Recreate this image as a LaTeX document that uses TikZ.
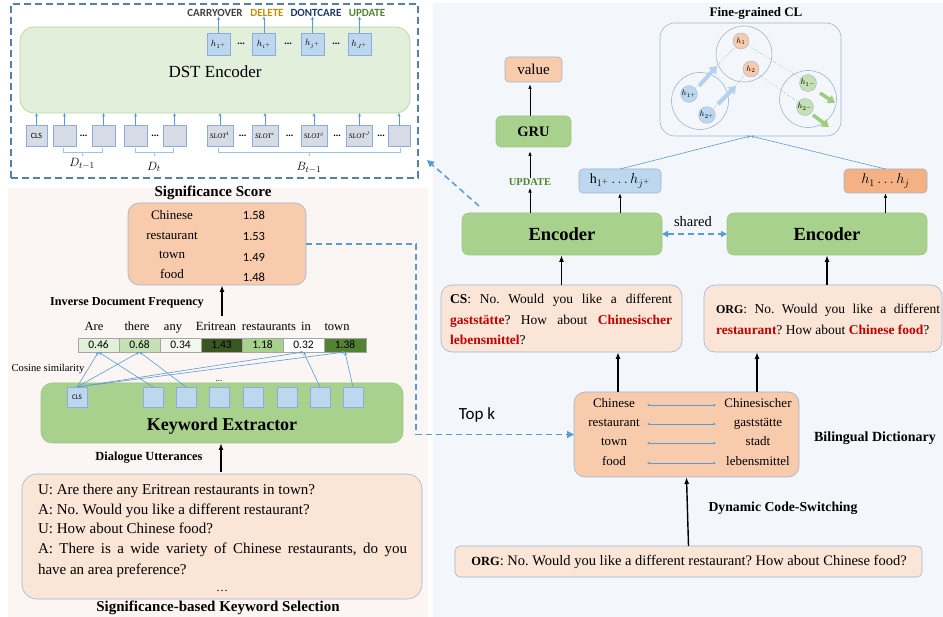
\documentclass[tikz,border=0pt]{standalone}
\usepackage{fontspec}
\setmainfont{Liberation Serif}
\newfontfamily\carl{Carlito}
\usetikzlibrary{arrows.meta}
\definecolor{pinkbg}{HTML}{FBF6F3}
\definecolor{bluebg}{HTML}{F3F7FB}
\definecolor{frameblue}{HTML}{5480AC}
\definecolor{dstfill}{HTML}{E2EFDA}
\definecolor{dstdraw}{HTML}{B8D3A8}
\definecolor{grn}{HTML}{A9D18E}
\definecolor{grnd}{HTML}{9CC77F}
\definecolor{org}{HTML}{F8CBAD}
\definecolor{orgd}{HTML}{F4B183}
\definecolor{pale}{HTML}{FBE5D6}
\definecolor{bdr}{HTML}{9DB5D3}
\definecolor{lblue}{HTML}{BDD7EE}
\definecolor{lbluedraw}{HTML}{8FAADC}
\definecolor{ingray}{HTML}{D6DCE5}
\definecolor{arr}{HTML}{5B9BD5}
\definecolor{brcc}{HTML}{9DC3E6}
\definecolor{redt}{HTML}{C00000}
\definecolor{carry}{HTML}{404040}
\definecolor{del}{HTML}{BF9000}
\definecolor{dont}{HTML}{203864}
\definecolor{upd}{HTML}{548235}
\definecolor{cA}{HTML}{E2F0D9}
\definecolor{cB}{HTML}{C5E0B4}
\definecolor{cC}{HTML}{F2F8EE}
\definecolor{cD}{HTML}{385723}
\definecolor{cE}{HTML}{A9D18E}
\definecolor{cG}{HTML}{548235}
\definecolor{clgreen}{HTML}{C5E0B4}
\definecolor{fatblue}{HTML}{B4D2EE}
\definecolor{fatgreen}{HTML}{9FCD7E}
\newcommand\fsz[2]{\fontsize{#1}{#2}\selectfont}
\newcommand\rd[1]{\textcolor{redt}{\textbf{#1}}}
\frenchspacing
\begin{document}
\begin{tikzpicture}[x=1pt,y=-1pt,
  every node/.style={inner sep=0pt, outer sep=0pt},
  st/.style={execute at begin node=\strut},
  blarr/.style={draw=arr, line width=0.6pt, -{Stealth[length=3.5pt,width=3pt]}},
  karr/.style={draw=black, line width=1.4pt, -{Latex[length=7pt,width=5pt]}},
  karrs/.style={draw=black, line width=1pt, -{Latex[length=5pt,width=3.6pt]}},
  dsh/.style={draw=arr, line width=1.5pt, dash pattern=on 6pt off 4pt},
  hbx/.style={draw=lbluedraw, fill=lblue, minimum width=23, minimum height=22, font=\fsz{9}{10}},
  inb/.style={draw=lbluedraw, fill=ingray, minimum width=23, minimum height=21},
  dts/.style={font=\bfseries\fsz{10}{12}},
  lab/.style={font=\carl\bfseries\fsz{11}{13}},
  brc/.style={draw=brcc, line width=0.7pt},
  cell/.style={draw=gray!70, minimum width=41, minimum height=14, font=\carl\fsz{11.5}{13}},
  kb/.style={draw=lbluedraw, fill=lblue, minimum width=20, minimum height=20},
  tl/.style={anchor=west},
  snode/.style={circle, draw=bdr, minimum size=16, font=\fsz{8.5}{10}},
  big/.style={circle, draw=bdr, line width=0.6pt},
  dotln/.style={draw=gray, line width=0.5pt, dotted},
  fatb/.style={draw=fatblue, line width=4pt, -{Triangle[length=7pt,width=10pt]}},
  fatg/.style={draw=fatgreen, line width=3.5pt, -{Triangle[length=7pt,width=9pt]}},
  rbox/.style={draw=bdr, line width=0.6pt},
  gbox/.style={draw=grnd, fill=grn, line width=0.6pt}
]
\useasboundingbox (0,0) rectangle (943,617);
% backgrounds
\fill[pinkbg] (8,188) rectangle (428,617);
\fill[bluebg] (433,3) rectangle (943,617);

% ===== DST encoder panel =====
\node[draw=frameblue, line width=1.4pt, dash pattern=on 7pt off 4pt, minimum width=407, minimum height=174] (frame) at (214.5,91) {};
\node[draw=dstdraw, fill=dstfill, rounded corners=14pt, line width=0.7pt, minimum width=390, minimum height=86] (dst) at (215,70) {};
\node[font=\fsz{17}{20}] (dsttext) at (215,72) {DST Encoder};
\node[hbx] (h1) at (218.5,44) {$h_{1^+}$};
\node[hbx] (hi) at (264,44) {$h_{i^+}$};
\node[hbx] (hj) at (312.5,44) {$h_{j^+}$};
\node[hbx] (hJ) at (359.5,44) {$h_{J^+}$};
\node[dts] (d1) at (241,44) {...};
\node[dts] (d2) at (288,44) {...};
\node[dts] (d3) at (336,44) {...};
\node[lab, text=carry] (l1) at (215,13) {CARRYOVER};
\node[lab, text=del] (l2) at (267,13) {DELETE};
\node[lab, text=dont] (l3) at (316,13) {DONTCARE};
\node[lab, text=upd] (l4) at (367,13) {UPDATE};
\draw[blarr] (h1.north) -- (h1.north |- l1.south);
\draw[blarr] (hi.north) -- (hi.north |- l2.south);
\draw[blarr] (hj.north) -- (hj.north |- l3.south);
\draw[blarr] (hJ.north) -- (hJ.north |- l4.south);

\node[inb, minimum width=21, font=\carl\fsz{8}{9}] (cls) at (36.5,135.5) {CLS};
\node[inb] (b1) at (64.5,135.5) {};
\node[dts] (e1) at (83.5,135.5) {...};
\node[inb] (b2) at (103.5,135.5) {};
\node[inb] (b3) at (135.5,135.5) {};
\node[dts] (e2) at (155,135.5) {...};
\node[inb] (b4) at (174.5,135.5) {};
\node[inb, minimum width=26, font=\fsz{7}{8}] (s1) at (220,135.5) {$\mathit{SLOT}^1$};
\node[dts] (e3) at (242.5,135.5) {...};
\node[inb, minimum width=26, font=\fsz{7}{8}] (s2) at (265,135.5) {$\mathit{SLOT}^i$};
\node[dts] (e4) at (289.5,135.5) {...};
\node[inb, minimum width=26, font=\fsz{7}{8}] (s3) at (314,135.5) {$\mathit{SLOT}^j$};
\node[dts] (e5) at (337,135.5) {...};
\node[inb, minimum width=26, font=\fsz{7}{8}] (s4) at (359.5,135.5) {$\mathit{SLOT}^J$};
\node[dts] (e6) at (381,135.5) {...};
\node[inb, minimum width=22] (b5) at (399,135.5) {};
\foreach \n in {cls,b1,b2,b3,b4,s1,s2,s3,s4,b5}
  \draw[blarr] (\n.north) -- (\n.north |- dst.south);
\draw[brc] (63,148) -- (63,152) -- (102,152) -- (102,148) (82.5,152) -- (82.5,156);
\draw[brc] (135,148) -- (135,152) -- (173,152) -- (173,148) (154,152) -- (154,156);
\draw[brc] (218,148) -- (218,152) -- (400,152) -- (400,148) (309,152) -- (309,156);
\node[font=\fsz{13}{15}] (lD1) at (82,164) {$D_{t-1}$};
\node[font=\fsz{13}{15}] (lD2) at (154,167) {$D_t$};
\node[font=\fsz{13}{15}] (lB) at (309,168) {$B_{t-1}$};

% ===== keyword selection panel =====
\node[font=\bfseries\fsz{15}{17}] (sstitle) at (213,193) {Significance Score};
\node[rbox, fill=org, rounded corners=11pt, minimum width=178, minimum height=82] (score) at (217,244) {};
\node[st, font=\fsz{13}{15}] (w1) at (172,217) {Chinese};
\node[st, font=\fsz{13}{15}] (w2) at (172,237) {restaurant};
\node[st, font=\fsz{13}{15}] (w3) at (172,256) {town};
\node[st, font=\fsz{13}{15}] (w4) at (172,276) {food};
\node[font=\carl\fsz{12.5}{14}] (v1) at (254,215) {1.58};
\node[font=\carl\fsz{12.5}{14}] (v2) at (254,236) {1.53};
\node[font=\carl\fsz{12.5}{14}] (v3) at (254,257) {1.49};
\node[font=\carl\fsz{12.5}{14}] (v4) at (254,277) {1.48};
\coordinate (idf) at (222,316);
\draw[karr] (idf) -- (idf |- score.south);
\node[font=\bfseries\fsz{12.2}{14}] (idflab) at (127,303) {Inverse Document Frequency};

\node[st, font=\fsz{12.5}{14}] (t1) at (94,328) {Are};
\node[st, font=\fsz{12.5}{14}] (t2) at (137,328) {there};
\node[st, font=\fsz{12.5}{14}] (t3) at (173,328) {any};
\node[st, font=\fsz{12.5}{14}] (t4) at (216,328) {Eritrean};
\node[st, font=\fsz{12.5}{14}] (t5) at (269,328) {restaurants};
\node[st, font=\fsz{12.5}{14}] (t6) at (306,328) {in};
\node[st, font=\fsz{12.5}{14}] (t7) at (337,328) {town};
\node[cell, fill=cA] (c1) at (98.5,345) {0.46};
\node[cell, fill=cB] (c2) at (139.5,345) {0.68};
\node[cell, fill=cC] (c3) at (180.5,345) {0.34};
\node[cell, fill=cD] (c4) at (221.5,345) {1.43};
\node[cell, fill=cE] (c5) at (262.5,345) {1.18};
\node[cell, fill=white] (c6) at (303.5,345) {0.32};
\node[cell, fill=cG, minimum width=42] (c7) at (345,345) {1.38};

\node[gbox, rounded corners=11pt, minimum width=362, minimum height=60] (kw) at (222,413) {};
\node[font=\bfseries\fsz{18}{20}] (kwtext) at (222,426) {Keyword Extractor};
\node[kb, font=\carl\fsz{7}{8}] (k1) at (77,397) {CLS};
\node[kb] (k2) at (153,397) {};
\node[kb] (k3) at (186,397) {};
\node[kb] (k4) at (219.5,397) {};
\node[kb] (k5) at (253,397) {};
\node[kb] (k6) at (287,397) {};
\node[kb] (k7) at (320,397) {};
\node[kb] (k8) at (353,397) {};
\node[font=\fsz{9}{10}] (kdots) at (219,381) {...};
\draw[blarr] (k1.north) -- (c1.south);
\draw[blarr] (k1.north) -- (c2.south);
\draw[blarr] (k1.north) -- (c6.south);
\draw[blarr] (k1.north) -- (c7.south);
\draw[blarr] (k2.north) -- (c1.south);
\draw[blarr] (k3.north) -- (c2.south);
\draw[blarr] (k7.north) -- (c6.south);
\draw[blarr] (k8.north) -- (c7.south);
\node[font=\fsz{10.6}{12}] (cos) at (48,369) {Cosine similarity};

\node[font=\bfseries\fsz{12.4}{14}] (dulab) at (149,458) {Dialogue Utterances};
\coordinate (du) at (221,472);
\draw[karr] (du) -- (du |- kw.south);
\node[rbox, fill=pale, rounded corners=15pt, minimum width=400, minimum height=125] (utt) at (222,536.5) {};
\node[tl, font=\fsz{15}{18}] (u1) at (38,491) {\strut U: Are there any Eritrean restaurants in town?};
\node[tl, font=\fsz{15}{18}] (u2) at (38,511) {\strut A: No. Would you like a different restaurant?};
\node[tl, font=\fsz{15}{18}] (u3) at (38,530) {\strut U: How about Chinese food?};
\node[tl, font=\fsz{15}{18}] (u4) at (38,550) {\hbox to 369pt{\strut A: There is a wide variety of Chinese restaurants, do you}};
\node[tl, font=\fsz{15}{18}] (u5) at (38,571) {\strut have an area preference?};
\node[font=\fsz{12}{14}] (udots) at (222,591) {\dots};
\node[font=\bfseries\fsz{15}{17}] (kstitle) at (218,608) {Significance-based Keyword Selection};

% ===== right panel =====
\node[font=\bfseries\fsz{13}{15}] (cltitle) at (756,13) {Fine-grained CL};
\node[rbox, rounded corners=15pt, minimum width=181, minimum height=113] (cl) at (750.5,79.5) {};
\node[big, minimum size=56] (ctop) at (744,54) {};
\node[big, minimum size=57] (cleft) at (700,101) {};
\node[big, minimum size=57] (cright) at (808,99) {};
\node[snode, fill=org] (p1) at (741,41) {$h_1$};
\node[snode, fill=org] (p2) at (751,69) {$h_2$};
\node[snode, fill=lblue] (q1) at (689,94) {$h_{1^+}$};
\node[snode, fill=lblue] (q2) at (707,115) {$h_{2^+}$};
\node[snode, fill=clgreen] (n1) at (808,83) {$h_{1^-}$};
\node[snode, fill=clgreen] (n2) at (805,107) {$h_{2^-}$};
\draw[dotln] (p1) -- (q1);
\draw[dotln] (p2) -- (q2);
\draw[dotln] (p1) -- (n1);
\draw[dotln] (p2) -- (n2);
\coordinate (fa1) at (699,86); \coordinate (fa2) at (717,66);
\coordinate (fb1) at (718,104); \coordinate (fb2) at (736,86);
\coordinate (ga1) at (820,93); \coordinate (ga2) at (835,103);
\coordinate (gb1) at (813,115); \coordinate (gb2) at (829,127);
\draw[fatb] (fa1) -- (fa2);
\draw[fatb] (fb1) -- (fb2);
\draw[fatg] (ga1) -- (ga2);
\draw[fatg] (gb1) -- (gb2);

\node[rbox, fill=org, rounded corners=4pt, minimum width=57, minimum height=25, font=\fsz{15}{17}] (val) at (533.5,69.5) {value};
\node[gbox, rounded corners=5pt, minimum width=75, minimum height=31, font=\bfseries\fsz{14.5}{16}] (gru) at (533.5,131.5) {GRU};
\node[font=\bfseries\fsz{10.5}{12}, text=upd] (updl) at (530,182) {UPDATE};
\node[rbox, fill=lblue, rounded corners=4pt, minimum width=82, minimum height=24, font=\fsz{14}{16}] (hp) at (620,181) {$\mathrm{h}_{1^+}\ldots h_{j^+}$};
\node[rbox, fill=orgd, rounded corners=4pt, minimum width=83, minimum height=24, font=\fsz{14}{16}] (hn) at (885.5,181) {$h_1\ldots h_j$};
\draw[blarr] (hp.north) -- (cl.south);
\draw[blarr] (hn.north) -- (cl.south);

\node[gbox, rounded corners=7pt, minimum width=200, minimum height=42, font=\bfseries\fsz{18.5}{20}] (encL) at (562,234) {Encoder};
\node[gbox, rounded corners=7pt, minimum width=200, minimum height=42, font=\bfseries\fsz{18.5}{20}] (encR) at (827,234) {Encoder};
\node[font=\fsz{14.5}{16}] (shared) at (693,222) {shared};
\draw[dsh, {Triangle[length=6pt,width=6pt]}-{Triangle[length=6pt,width=6pt]}] (encL.east) -- (encR.west);

\coordinate (gv) at (530,116);
\draw[karrs, shorten >=2pt] (gv) -- (gv |- val.south);
\draw[karrs, shorten >=4pt] (updl.north) -- (updl |- gru.south);
\draw[karrs, shorten >=2pt] (encL.north -| updl) -- (updl.south);
\draw[karrs] (encL.north -| hp) -- (hp.south);
\draw[karrs] (encR.north -| hn) -- (hn.south);

\node[rbox, fill=pale, rounded corners=11pt, minimum width=241, minimum height=67] (cs) at (561.5,318.5) {};
\node[rbox, fill=pale, rounded corners=11pt, minimum width=238, minimum height=67] (orgb) at (823,318.5) {};
\draw[karr] (cs.north) -- (cs.north |- encL.south);
\draw[karr] (encR.south |- orgb.north) -- (encR.south);
\node[tl, font=\fsz{13.5}{16}] (cs1) at (450,300) {\hbox to 222pt{\strut\textbf{CS}: No. Would you like a different}};
\node[tl, font=\fsz{13.5}{16}] (cs2) at (450,321) {\hbox to 222pt{\strut\rd{gaststätte}? How about \rd{Chinesischer}}};
\node[tl, font=\fsz{13.5}{16}] (cs3) at (450,341) {\strut\rd{lebensmittel}?};
\node[tl, font=\fsz{13.5}{16}] (og1) at (716,310) {\hbox to 224pt{\strut\textbf{\fsz{12}{14}ORG}: No. Would you like a different}};
\node[tl, font=\fsz{13.5}{16}] (og2) at (716,331) {\strut\rd{restaurant}? How about \rd{Chinese food}?};

\node[rbox, fill=org, rounded corners=11pt, minimum width=225, minimum height=85] (dict) at (686.5,434.5) {};
\coordinate (aL) at (647,0); \coordinate (aR) at (716,0);
\foreach \i/\y/\a/\b in {1/405/Chinese/Chinesischer, 2/424/restaurant/gaststätte, 3/443/town/stadt, 4/463/food/lebensmittel}{
  \node[st, font=\fsz{13}{15}] (dl\i) at (614,\y) {\a};
  \node[st, font=\fsz{13}{15}] (dr\i) at (758,\y) {\b};
  \draw[draw=arr, line width=0.5pt, {Stealth[length=3pt,width=2.5pt]}-{Stealth[length=3pt,width=2.5pt]}] (dl\i -| aL) -- (dl\i -| aR);
}
\coordinate (u1) at (618,392); \coordinate (u2) at (757,392);
\draw[karr] (u1) -- (u1 |- cs.south);
\draw[karr] (u2) -- (u2 |- orgb.south);
\node[font=\bfseries\fsz{14}{16}] (bdlab) at (875,438) {Bilingual Dictionary};
\node[font=\carl\fsz{17}{19}] (topk) at (477,415) {Top k};
\coordinate (tk) at (416,434.5);
\draw[dsh, -{Triangle[length=7pt,width=7pt]}] (score.east) -| (tk) -- (dict.west);
\coordinate (da) at (479,206); \coordinate (db) at (427,160);
\draw[dsh, -{Triangle[length=7pt,width=7pt]}] (da) -- (db);

\node[rbox, fill=pale, rounded corners=5pt, minimum width=467, minimum height=31] (org2) at (688.5,561.5) {};
\node[font=\fsz{14.5}{17}] (org2t) at (689,562) {\strut\textbf{\fsz{12.5}{14}ORG}: No. Would you like a different restaurant? How about Chinese food?};
\draw[karr] (org2.north) -- (dict.south);
\node[font=\bfseries\fsz{13.7}{16}] (dcs) at (783,508) {Dynamic Code-Switching};
\end{tikzpicture}
\end{document}
